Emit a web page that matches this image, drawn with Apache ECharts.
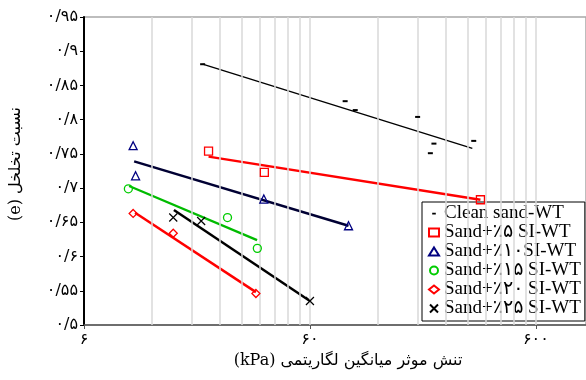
<!DOCTYPE html>
<html><head><meta charset="utf-8">
<script src="https://cdn.jsdelivr.net/npm/echarts@6/dist/echarts.min.js"></script>
<style>html,body{margin:0;padding:0;background:#fff}#c{width:586px;height:380px}</style>
</head><body><div id="c"></div>
<script>
// ---- data ----
const seriesNames = ['Clean sand-WT','Sand+٪۵ SI-WT','Sand+٪۱۰SI-WT','Sand+٪۱۵ SI-WT','Sand+٪۲۰ SI-WT','Sand+٪۲۵ SI-WT'];
const cleanX = [20.1, 85.9, 95.2, 179.8, 212.3, 204.7, 318.5];
const cleanY = [0.881, 0.827, 0.814, 0.804, 0.765, 0.751, 0.769];
const cleanTrendX = [20.1, 314];
const cleanTrendY = [0.881, 0.758];
const s5X = [21.35, 37.7, 341];
const s5Y = [0.754, 0.723, 0.683];
const s5TrendX = [21.35, 341];
const s5TrendY = [0.746, 0.683];
const s10X = [9.9, 10.15, 37.5, 88.9];
const s10Y = [0.762, 0.718, 0.684, 0.645];
const s10TrendX = [10.0, 88.9];
const s10TrendY = [0.739, 0.645];
const s15X = [9.43, 25.9, 35.1];
const s15Y = [0.699, 0.657, 0.612];
const s15TrendX = [9.5, 35.0];
const s15TrendY = [0.703, 0.624];
const s20X = [9.9, 14.9, 34.6];
const s20Y = [0.663, 0.634, 0.546];
const s20TrendX = [10.1, 34.6];
const s20TrendY = [0.664, 0.548];
const s25X = [14.9, 19.8, 60];
const s25Y = [0.657, 0.652, 0.535];
const s25TrendX = [15.0, 60];
const s25TrendY = [0.668, 0.535];
// ticks
const xTickValues = [6, 60, 600];
const xTickLabels = ['۶', '۶۰', '۶۰۰'];
const xGridValues = [12,18,24,30,36,42,48,54,60,120,180,240,300,360,420,480,540,600];
const yTickValues = [0.5,0.55,0.6,0.65,0.7,0.75,0.8,0.85,0.9,0.95];
const yTickLabels = ['۰/۵','۰/۵۵','۰/۶','۰/۶۵','۰/۷','۰/۷۵','۰/۸','۰/۸۵','۰/۹','۰/۹۵'];
const xTitle = '(kPa) تنش موثر میانگین لگاریتمی';
const yTitle = '(e) نسبت تخلخل';

const zip = (a, b) => a.map((v, i) => [v, b[i]]);
const labelFor = (vals, labels, v) => {
  let best = 0;
  vals.forEach((t, i) => { if (Math.abs(Math.log(t) - Math.log(v)) < Math.abs(Math.log(vals[best]) - Math.log(v))) best = i; });
  return labels[best];
};

const chart = echarts.init(document.getElementById('c'), null, {renderer: 'canvas'});
const xPath = 'path://M0,0L10,10M10,0L0,10';
const dashIcon = 'path://M0,0h0.01v0.01h-0.01z M10,8h0.01v0.01h-0.01z M3.2,3.2h3.6v1.8h-3.6z';
const scatterDefs = [
  {x: cleanX, y: cleanY, symbol: 'rect', size: [5, 2], style: {color: '#000', borderWidth: 0}, icon: dashIcon},
  {x: s5X, y: s5Y, symbol: 'rect', size: 8, style: {color: 'transparent', borderColor: '#ff0000', borderWidth: 1.3}},
  {x: s10X, y: s10Y, symbol: 'triangle', size: 8, style: {color: 'transparent', borderColor: '#000080', borderWidth: 1.3}},
  {x: s15X, y: s15Y, symbol: 'circle', size: 8, style: {color: 'transparent', borderColor: '#00cc00', borderWidth: 1.3}},
  {x: s20X, y: s20Y, symbol: 'diamond', size: 8, style: {color: 'transparent', borderColor: '#ff0000', borderWidth: 1.3}},
  {x: s25X, y: s25Y, symbol: xPath, size: 8, style: {color: 'transparent', borderColor: '#000', borderWidth: 1.2}}
];
const trendDefs = [
  {x: cleanTrendX, y: cleanTrendY, color: '#000', width: 1.3},
  {x: s5TrendX, y: s5TrendY, color: '#ff0000', width: 2.5},
  {x: s10TrendX, y: s10TrendY, color: '#000033', width: 2.5},
  {x: s15TrendX, y: s15TrendY, color: '#00bb00', width: 2.2},
  {x: s20TrendX, y: s20TrendY, color: '#ff0000', width: 2.5},
  {x: s25TrendX, y: s25TrendY, color: '#000', width: 2.5}
];

const series = [];
series.push({
  type: 'line', data: [], silent: true, z: 1,
  markLine: {
    silent: true, symbol: 'none', animation: false,
    label: {show: false},
    lineStyle: {color: '#d8d8d8', width: 1.5, type: 'solid'},
    data: xGridValues.map(v => ({xAxis: v}))
  }
});
trendDefs.forEach(t => series.push({
  type: 'line', data: zip(t.x, t.y), showSymbol: false, symbol: 'none', silent: true, z: 3,
  lineStyle: {color: t.color, width: t.width}, animation: false
}));
scatterDefs.forEach((s, i) => series.push({
  name: seriesNames[i], type: 'scatter', data: zip(s.x, s.y), symbol: s.symbol, symbolSize: s.size,
  itemStyle: Object.assign({opacity: 1}, s.style), z: 5, animation: false
}));

chart.setOption({
  animation: false,
  grid: {left: 84, top: 17, right: -3, bottom: 55, show: true, borderColor: '#a8a8a8', borderWidth: 1.5, backgroundColor: 'transparent'},
  xAxis: {
    type: 'log', logBase: 10, min: 6, max: 1000,
    name: xTitle, nameLocation: 'middle', nameGap: 28,
    nameTextStyle: {fontFamily: 'DejaVu Serif, Liberation Serif, DejaVu Sans', fontSize: 16, color: '#000', padding: [0, 0, 0, 26]},
    axisLine: {show: true, lineStyle: {color: '#555', width: 1.5}},
    axisTick: {show: true, length: 4, customValues: xTickValues, lineStyle: {color: '#555'}},
    axisLabel: {show: true, customValues: xTickValues, margin: 7, color: '#000', fontFamily: 'DejaVu Sans', fontSize: 16,
      formatter: v => labelFor(xTickValues, xTickLabels, v)},
    splitLine: {show: false}, minorTick: {show: false}, minorSplitLine: {show: false}
  },
  yAxis: {
    type: 'value', min: 0.5, max: 0.95, interval: 0.05,
    name: yTitle, nameLocation: 'middle', nameGap: 60, nameRotate: 90,
    nameTextStyle: {fontFamily: 'DejaVu Serif, Liberation Serif, DejaVu Sans', fontSize: 16, color: '#000', padding: [0, 0, 0, 14]},
    axisLine: {show: true, lineStyle: {color: '#000', width: 2}},
    axisTick: {show: true, length: 4, lineStyle: {color: '#000'}},
    axisLabel: {margin: 6, color: '#000', fontFamily: 'DejaVu Sans', fontSize: 16,
      formatter: v => { const i = yTickValues.findIndex(t => Math.abs(t - v) < 1e-6); return i >= 0 ? yTickLabels[i] : ''; }},
    splitLine: {show: false}
  },
  legend: {
    show: true, orient: 'vertical', left: 422, top: 202,
    backgroundColor: '#fff', borderColor: '#000', borderWidth: 1, borderRadius: 0,
    padding: [2, 4, 3, 6], itemGap: 0, itemWidth: 10, itemHeight: 8,
    data: seriesNames.map((n, i) => scatterDefs[i].icon ? {name: n, icon: scatterDefs[i].icon} : n),
    textStyle: {fontFamily: 'Liberation Serif, DejaVu Sans', fontSize: 19, color: '#000', lineHeight: 19}
  },
  series: series
});
</script>
</body></html>
